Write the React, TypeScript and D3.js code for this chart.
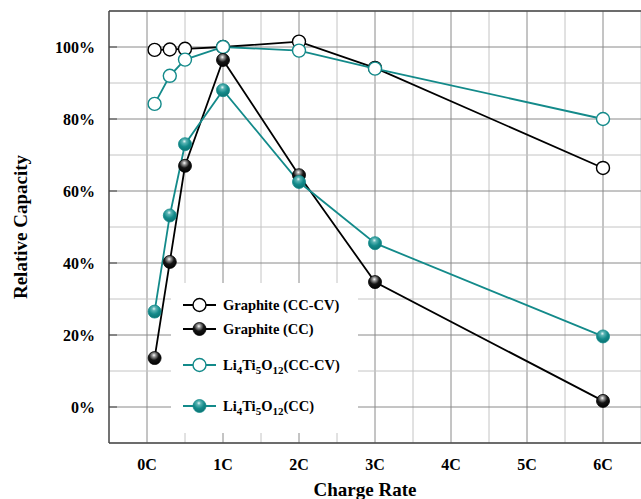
import React from "react";
import * as d3 from "d3";

const rates = [0.1, 0.3, 0.5, 1, 2, 3, 6];
const graphiteCCCV = [99.2, 99.3, 99.5, 100, 101.5, 94.2, 66.4];
const graphiteCC = [13.6, 40.3, 67, 96.4, 64.4, 34.7, 1.7];
const ltoCCCV = [84.2, 92, 96.5, 100, 99, 94, 80];
const ltoCC = [26.5, 53.2, 73, 88, 62.5, 45.5, 19.6];
const xTicks = [0, 1, 2, 3, 4, 5, 6];
const xTickLabels = ["0C", "1C", "2C", "3C", "4C", "5C", "6C"];
const yTicks = [0, 20, 40, 60, 80, 100];

const BLACK = "#000000";
const TEAL = "#138a8a";
const FONT = "'Liberation Serif', 'DejaVu Serif', serif";

const W = 641, H = 499;
const x = d3.scaleLinear().domain([-0.5, 6.5]).range([109, 641]);
const y = d3.scaleLinear().domain([-10, 110]).range([443, 11]);

type Series = { key: string; values: number[]; color: string; filled: boolean; grad: string };
const series: Series[] = [
  { key: "gcccv", values: graphiteCCCV, color: BLACK, filled: false, grad: "" },
  { key: "lcccv", values: ltoCCCV, color: TEAL, filled: false, grad: "" },
  { key: "gcc", values: graphiteCC, color: BLACK, filled: true, grad: "url(#gBlack)" },
  { key: "lcc", values: ltoCC, color: TEAL, filled: true, grad: "url(#gTeal)" },
];

const R = 6.5;

function Marker({ cx, cy, s }: { cx: number; cy: number; s: Series }) {
  return s.filled ? (
    <circle cx={cx} cy={cy} r={R} fill={s.grad} stroke={s.color} strokeWidth={0.8} />
  ) : (
    <circle cx={cx} cy={cy} r={R} fill="#fff" stroke={s.color} strokeWidth={1.4} />
  );
}

function LtoLabel({ tail }: { tail: string }) {
  return (
    <>
      <tspan>Li</tspan><tspan fontSize={11} dy={4}>4</tspan>
      <tspan dy={-4}>Ti</tspan><tspan fontSize={11} dy={4}>5</tspan>
      <tspan dy={-4}>O</tspan><tspan fontSize={11} dy={4}>12</tspan>
      <tspan dy={-4}>{tail}</tspan>
    </>
  );
}

export default function App() {
  const line = d3.line<[number, number]>().x((d) => x(d[0])).y((d) => y(d[1]));
  const halfTicks = d3.range(0, 6.51, 0.5);
  const tenTicks = d3.range(-10, 110.1, 10);
  const legendItems = [
    { s: series[0], y: 305, label: <tspan>Graphite (CC-CV)</tspan> },
    { s: series[2], y: 329, label: <tspan>Graphite (CC)</tspan> },
    { s: series[1], y: 365, label: <LtoLabel tail="(CC-CV)" /> },
    { s: series[3], y: 406, label: <LtoLabel tail="(CC)" /> },
  ];
  return (
    <svg width={W} height={H} style={{ position: "absolute", left: 0, top: 0, background: "#fff" }} fontFamily={FONT}>
      <defs>
        <radialGradient id="gBlack" cx="0.45" cy="0.3" r="0.75" fx="0.45" fy="0.28">
          <stop offset="0" stopColor="#ffffff" />
          <stop offset="0.18" stopColor="#9a9a9a" />
          <stop offset="0.5" stopColor="#151515" />
          <stop offset="1" stopColor="#000" />
        </radialGradient>
        <radialGradient id="gTeal" cx="0.45" cy="0.3" r="0.75" fx="0.45" fy="0.28">
          <stop offset="0" stopColor="#e6f6f6" />
          <stop offset="0.2" stopColor="#5ab4b4" />
          <stop offset="0.55" stopColor="#138a8a" />
          <stop offset="1" stopColor="#0b6e6e" />
        </radialGradient>
      </defs>
      {halfTicks.map((t) => (
        <line key={"vx" + t} x1={x(t)} x2={x(t)} y1={y(110)} y2={y(-10)}
          stroke={Number.isInteger(t) ? "#8a8a8a" : "#c4c4c4"} strokeWidth={1} />
      ))}
      {tenTicks.map((t) => (
        <line key={"hy" + t} x1={x(-0.5)} x2={W} y1={y(t)} y2={y(t)}
          stroke={t % 20 === 0 ? "#8a8a8a" : "#c4c4c4"} strokeWidth={1} />
      ))}
      <line x1={x(-0.5)} x2={W} y1={y(110)} y2={y(110)} stroke="#444" strokeWidth={1.5} />
      <line x1={x(-0.5)} x2={W} y1={y(-10)} y2={y(-10)} stroke="#444" strokeWidth={1.5} />
      <line x1={x(-0.5)} x2={x(-0.5)} y1={y(110)} y2={y(-10)} stroke="#444" strokeWidth={1.5} />
      {yTicks.map((t) => (
        <line key={"yt" + t} x1={x(-0.5)} x2={x(-0.5) + 8} y1={y(t)} y2={y(t)} stroke="#444" strokeWidth={1} />
      ))}
      <rect x={171} y={283} width={187} height={150} fill="#fff" />
      {series.map((s) => (
        <path key={"l" + s.key} d={line(rates.map((r, i) => [r, s.values[i]]) as [number, number][]) || ""}
          fill="none" stroke={s.color} strokeWidth={1.8} />
      ))}
      {series.map((s) =>
        rates.map((r, i) => <Marker key={s.key + i} cx={x(r)} cy={y(s.values[i])} s={s} />)
      )}
      {legendItems.map((it, i) => (
        <g key={"lg" + i}>
          <line x1={183} x2={216} y1={it.y} y2={it.y} stroke={it.s.color} strokeWidth={1.8} />
          <Marker cx={199.5} cy={it.y} s={it.s} />
          <text x={223} y={it.y + 5} fontSize={14.5} fontWeight="bold" fill="#000">{it.label}</text>
        </g>
      ))}
      {yTicks.map((t) => (
        <text key={"yl" + t} x={95} y={y(t) + 5.5} textAnchor="end" fontSize={16} fontWeight="bold">{t}%</text>
      ))}
      {xTicks.map((t, i) => (
        <text key={"xl" + t} x={x(t)} y={470} textAnchor="middle" fontSize={16} fontWeight="bold">{xTickLabels[i]}</text>
      ))}
      <text x={365} y={496} textAnchor="middle" fontSize={19} fontWeight="bold">Charge Rate</text>
      <text transform={`translate(27, ${227}) rotate(-90)`} textAnchor="middle" fontSize={19} fontWeight="bold">Relative Capacity</text>
    </svg>
  );
}
